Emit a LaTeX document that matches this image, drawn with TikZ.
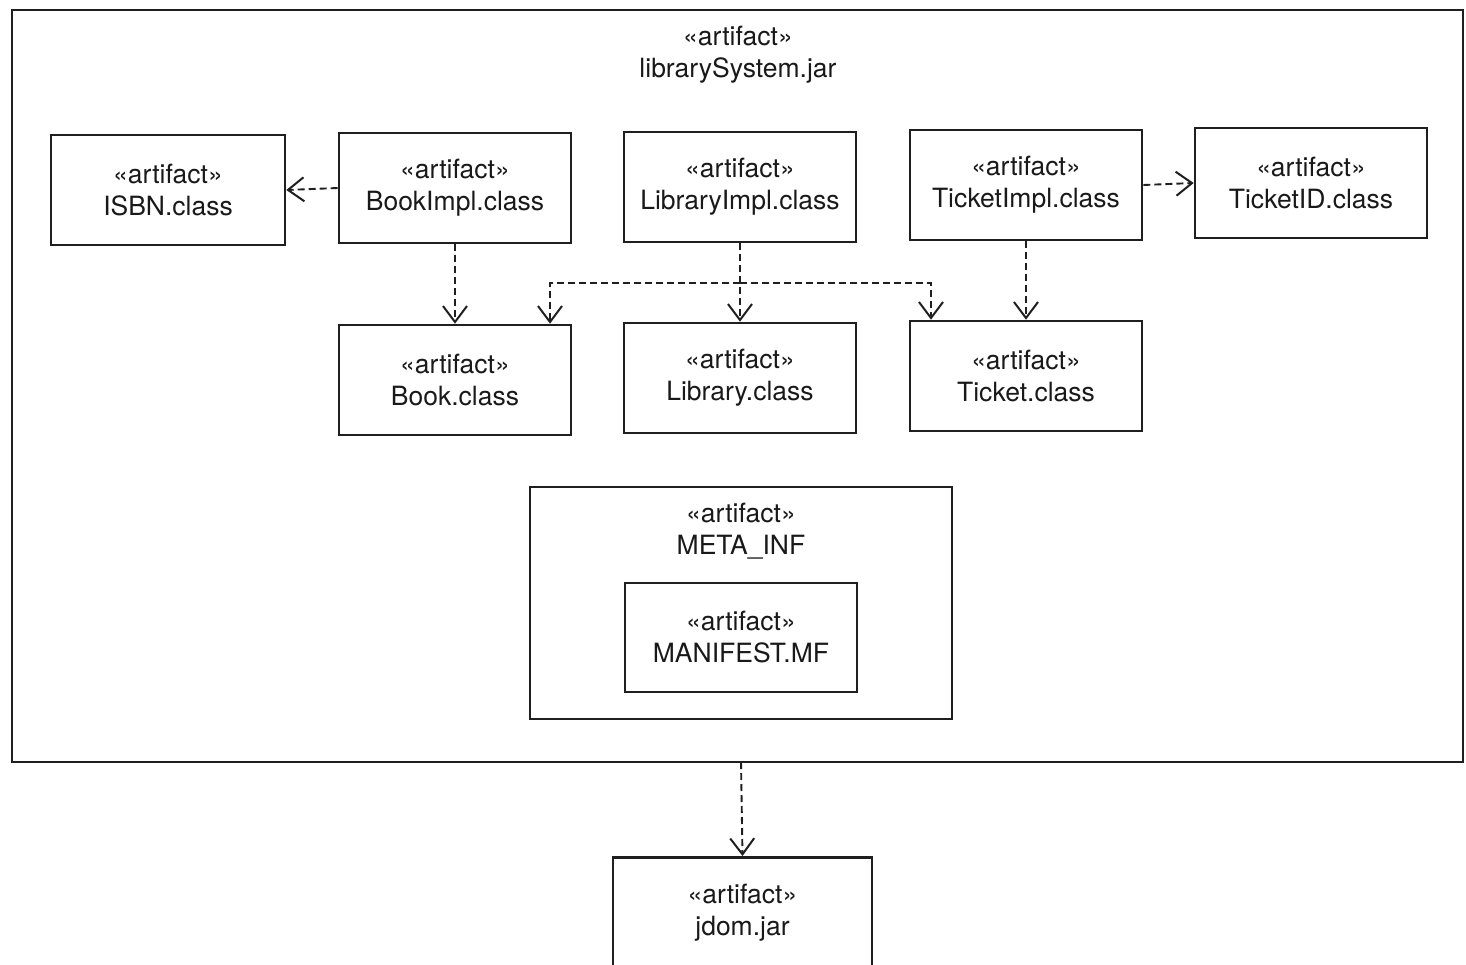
\documentclass[tikz,border=0pt]{standalone}
\usepackage{fontspec}
\setmainfont{TeX Gyre Heros}
\usetikzlibrary{arrows.meta}
\begin{document}
\begin{tikzpicture}[x=1pt,y=-1pt,
  every node/.style={font=\fontsize{26.5}{32}\selectfont, align=center, text=black!90},
  artbox/.style={draw=black!88, line width=2.6pt, minimum width=232pt, minimum height=110pt, inner sep=0pt},
  frame/.style={draw=black!88, line width=2.6pt},
  dep/.style={draw=black!88, line width=1.9pt, dash pattern=on 7pt off 4pt,
    -{Straight Barb[length=16pt,width=24pt,line width=2pt]}}]
\useasboundingbox (0,0) rectangle (1466,964);
\clip (0,0) rectangle (1466,964);
\fill[white] (0,0) rectangle (1466,964);

% enclosing jar
\draw[frame] (12,10) rectangle (1463,762);
\coordinate (outerS) at (741,762);
\node (jartitle) at (738,55) {«artifact»\\librarySystem.jar};

% class files
\node[artbox, minimum width=234pt] (isbn) at (168,190) {«artifact»\\ISBN.class};
\node[artbox] (bookimpl) at (455,188) {«artifact»\\BookImpl.class};
\node[artbox] (libimpl) at (740,187) {«artifact»\\LibraryImpl.class};
\node[artbox] (ticketimpl) at (1026,185) {«artifact»\\TicketImpl.class};
\node[artbox] (ticketid) at (1311,183) {«artifact»\\TicketID.class};
\node[artbox] (book) at (455,380) {«artifact»\\Book.class};
\node[artbox] (library) at (740,378) {«artifact»\\Library.class};
\node[artbox] (ticket) at (1026,376) {«artifact»\\Ticket.class};

% META_INF folder
\node[artbox, minimum width=422pt, minimum height=232pt] (meta) at (741,603) {};
\node[anchor=north] (metatitle) at ([yshift=-14pt]meta.north) {«artifact»\\META\_INF};
\node[artbox, minimum height=109pt] (manifest) at (741,637.5) {«artifact»\\MANIFEST.MF};

% external library
\node[artbox, minimum width=259pt, minimum height=130pt, anchor=north] (jdom) at (742.5,856) {};
\node (jdomtext) at (742.5,913) {«artifact»\\jdom.jar};

% dependencies
\draw[dep] (bookimpl.west) -- (isbn.east);
\draw[dep] (ticketimpl.east) -- (ticketid.west);
\draw[dep] (bookimpl.south) -- (book.north);
\draw[dep] (libimpl.south) -- (library.north);
\draw[dep] (ticketimpl.south) -- (ticket.north);
\coordinate (split) at (740,283);
\draw[dep] (split) -| ([xshift=95pt]book.north);
\draw[dep] (split) -| ([xshift=-95pt]ticket.north);
\draw[dep] (outerS) -- (jdom.north);
\end{tikzpicture}
\end{document}
